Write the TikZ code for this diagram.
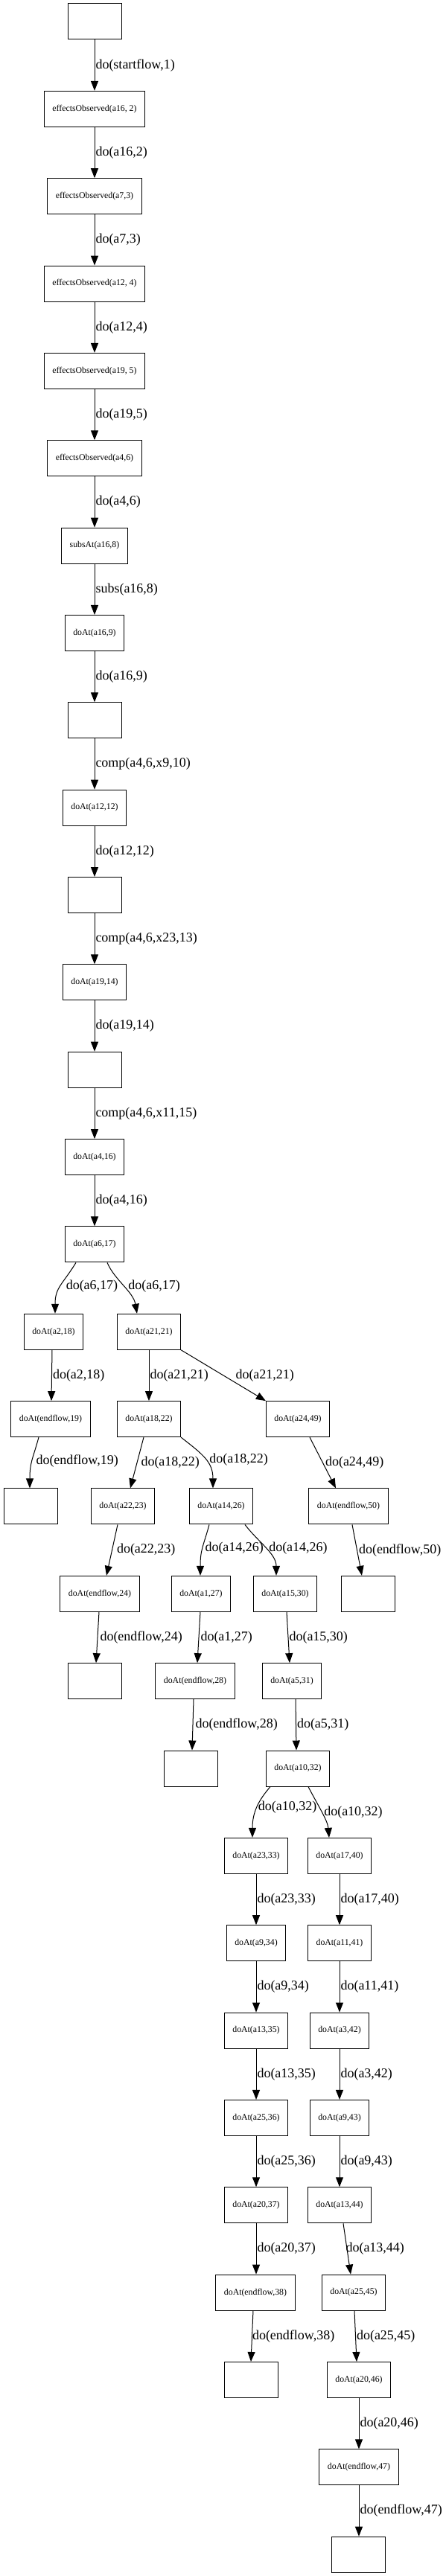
\documentclass[tikz,border=0pt]{standalone}
\usepackage{fontspec}
\setmainfont{Liberation Serif}
\usetikzlibrary{arrows.meta}

\tikzset{
  stbox/.style={draw, rectangle, line width=1pt, minimum width=72pt, minimum height=48pt,
    inner xsep=11pt, inner ysep=0pt, font=\fontsize{11.8}{14}\selectfont},
  link/.style={draw, line width=1pt, -{Triangle[length=13pt,width=10pt]}},
  lbl/.style={anchor=west, inner sep=0pt, xshift=1pt, font=\fontsize{18}{21}\selectfont}
}

\begin{document}
\begin{tikzpicture}[x=1pt, y=-117.35pt]
  \useasboundingbox (0,-0.2471) rectangle (598,29.2458);

  % main chain
  \foreach \r/\txt in {0/{}, 1/{effectsObserved(a16, 2)}, 2/{effectsObserved(a7,3)},
      3/{effectsObserved(a12, 4)}, 4/{effectsObserved(a19, 5)}, 5/{effectsObserved(a4,6)},
      6/{subsAt(a16,8)}, 7/{doAt(a16,9)}, 8/{}, 9/{doAt(a12,12)}, 10/{}, 11/{doAt(a19,14)},
      12/{}, 13/{doAt(a4,16)}, 14/{doAt(a6,17)}}
    \node[stbox] (n\r) at (127,\r) {\txt};

  \foreach \r/\txt in {0/{do(startflow,1)}, 1/{do(a16,2)}, 2/{do(a7,3)}, 3/{do(a12,4)},
      4/{do(a19,5)}, 5/{do(a4,6)}, 6/{subs(a16,8)}, 7/{do(a16,9)}, 8/{comp(a4,6,x9,10)},
      9/{do(a12,12)}, 10/{comp(a4,6,x23,13)}, 11/{do(a19,14)}, 12/{comp(a4,6,x11,15)},
      13/{do(a4,16)}} {
    \pgfmathtruncatemacro{\s}{\r+1}
    \draw[link] (n\r) -- node[lbl] {\txt} (n\s);
  }

  % branches
  \node[stbox] (a2-18) at (72,15) {doAt(a2,18)};
  \node[stbox] (a21-21) at (200,15) {doAt(a21,21)};
  \node[stbox] (ef-19) at (68,16) {doAt(endflow,19)};
  \node[stbox] (a18-22) at (200,16) {doAt(a18,22)};
  \node[stbox] (a24-49) at (400,16) {doAt(a24,49)};
  \node[stbox] (e19) at (41,17) {};
  \node[stbox] (a22-23) at (165,17) {doAt(a22,23)};
  \node[stbox] (a14-26) at (297,17) {doAt(a14,26)};
  \node[stbox] (ef-50) at (468,17) {doAt(endflow,50)};
  \node[stbox] (ef-24) at (134,18) {doAt(endflow,24)};
  \node[stbox] (a1-27) at (270,18) {doAt(a1,27)};
  \node[stbox] (a15-30) at (383,18) {doAt(a15,30)};
  \node[stbox] (e50) at (494,18) {};
  \node[stbox] (e24) at (127,19) {};
  \node[stbox] (ef-28) at (262,19) {doAt(endflow,28)};
  \node[stbox] (a5-31) at (392,19) {doAt(a5,31)};
  \node[stbox] (e28) at (256,20) {};
  \node[stbox] (a10-32) at (400,20) {doAt(a10,32)};

  % two columns
  \foreach \r/\txt in {21/{doAt(a23,33)}, 22/{doAt(a9,34)}, 23/{doAt(a13,35)},
      24/{doAt(a25,36)}, 25/{doAt(a20,37)}}
    \node[stbox] (l\r) at (344,\r) {\txt};
  \foreach \r/\txt in {21/{doAt(a17,40)}, 22/{doAt(a11,41)}, 23/{doAt(a3,42)},
      24/{doAt(a9,43)}, 25/{doAt(a13,44)}}
    \node[stbox] (r\r) at (456,\r) {\txt};
  \node[stbox] (ef-38) at (343,26) {doAt(endflow,38)};
  \node[stbox] (a25-45) at (475,26) {doAt(a25,45)};
  \node[stbox] (e38) at (337,27) {};
  \node[stbox] (a20-46) at (482,27) {doAt(a20,46)};
  \node[stbox] (ef-47) at (482,28) {doAt(endflow,47)};
  \node[stbox] (e47) at (481,29) {};

  % edges
  \draw[link] ([xshift=-25pt]n14.south) .. controls +(-18,0.25) and +(0,-0.3) .. ([xshift=2pt]a2-18.north)
    node[lbl, pos=0.5, xshift=6pt] {do(a6,17)};
  \draw[link] ([xshift=17pt]n14.south) .. controls +(10,0.2) and +(-5,-0.25) .. ([xshift=-16pt]a21-21.north)
    node[lbl, pos=0.5, xshift=5pt] {do(a6,17)};
  \draw[link] ([xshift=-2pt]a2-18.south) -- node[lbl] {do(a2,18)} ([xshift=1pt]ef-19.north);
  \draw[link] (a21-21) -- node[lbl] {do(a21,21)} (a18-22);
  \draw[link] (a21-21.south east) -- node[lbl, xshift=15pt] {do(a21,21)} (a24-49.north west);
  \draw[link] ([xshift=-16pt]ef-19.south) .. controls +(-8,0.25) and +(0,-0.3) .. ([xshift=-1pt]e19.north)
    node[lbl, pos=0.5, xshift=4pt] {do(endflow,19)};
  \draw[link] ([xshift=-7pt]a18-22.south) -- node[lbl, xshift=4pt] {do(a18,22)} ([xshift=10pt]a22-23.north);
  \draw[link] (a18-22.south east) .. controls +(30,0.2) and +(0,-0.3) .. ([xshift=-11pt]a14-26.north)
    node[lbl, pos=0.5, xshift=4pt] {do(a18,22)};
  \draw[link] ([xshift=16pt]a24-49.south) -- node[lbl, xshift=2pt] {do(a24,49)} ([xshift=-17pt]ef-50.north);
  \draw[link] ([xshift=-7pt]a22-23.south) -- node[lbl, xshift=5pt] {do(a22,23)} ([xshift=9pt]ef-24.north);
  \draw[link] ([xshift=-16pt]a14-26.south) .. controls +(-8,0.25) and +(0,-0.3) .. ([xshift=-1pt]a1-27.north)
    node[lbl, pos=0.5, xshift=2pt] {do(a14,26)};
  \draw[link] ([xshift=32pt]a14-26.south) .. controls +(18,0.2) and +(0,-0.25) .. ([xshift=-12pt]a15-30.north)
    node[lbl, pos=0.5, xshift=3pt] {do(a14,26)};
  \draw[link] ([xshift=5pt]ef-50.south) -- node[lbl, xshift=1pt] {do(endflow,50)} ([xshift=-8pt]e50.north);
  \draw[link] ([xshift=-1pt]ef-24.south) -- node[lbl, xshift=2pt] {do(endflow,24)} ([xshift=2pt]e24.north);
  \draw[link] ([xshift=-1pt]a1-27.south) -- node[lbl, xshift=1pt] {do(a1,27)} ([xshift=3pt]ef-28.north);
  \draw[link] ([xshift=2pt]a15-30.south) -- node[lbl] {do(a15,30)} ([xshift=-3pt]a5-31.north);
  \draw[link] ([xshift=-2pt]ef-28.south) -- node[lbl, xshift=2pt] {do(endflow,28)} ([xshift=2pt]e28.north);
  \draw[link] ([xshift=5pt]a5-31.south) -- node[lbl] {do(a5,31)} ([xshift=-2pt]a10-32.north);
  \draw[link] ([xshift=-37pt]a10-32.south) .. controls +(-15,0.15) and +(0,-0.3) .. ([xshift=-5pt]l21.north)
    node[lbl, pos=0.5] {do(a10,32)};
  \draw[link] ([xshift=14pt]a10-32.south) .. controls +(12,0.2) and +(-2,-0.2) .. ([xshift=-14pt]r21.north)
    node[lbl, pos=0.5, xshift=2pt] {do(a10,32)};

  \foreach \r/\txt in {21/{do(a23,33)}, 22/{do(a9,34)}, 23/{do(a13,35)}, 24/{do(a25,36)}} {
    \pgfmathtruncatemacro{\s}{\r+1}
    \draw[link] (l\r) -- node[lbl] {\txt} (l\s);
  }
  \foreach \r/\txt in {21/{do(a17,40)}, 22/{do(a11,41)}, 23/{do(a3,42)}, 24/{do(a9,43)}} {
    \pgfmathtruncatemacro{\s}{\r+1}
    \draw[link] (r\r) -- node[lbl] {\txt} (r\s);
  }

  \draw[link] (l25.south) -- node[lbl] {do(a20,37)} ([xshift=1pt]ef-38.north);
  \draw[link] ([xshift=5pt]r25.south) -- node[lbl, xshift=-3pt] {do(a13,44)} ([xshift=-4pt]a25-45.north);
  \draw[link] ([xshift=-3pt]ef-38.south) -- node[lbl, xshift=-1pt] {do(endflow,38)} (e38.north);
  \draw[link] ([xshift=1pt]a25-45.south) -- node[lbl] {do(a25,45)} ([xshift=-3pt]a20-46.north);
  \draw[link] (a20-46) -- node[lbl] {do(a20,46)} (ef-47);
  \draw[link] (ef-47.south) -- node[lbl] {do(endflow,47)} ([xshift=1pt]e47.north);
\end{tikzpicture}
\end{document}
